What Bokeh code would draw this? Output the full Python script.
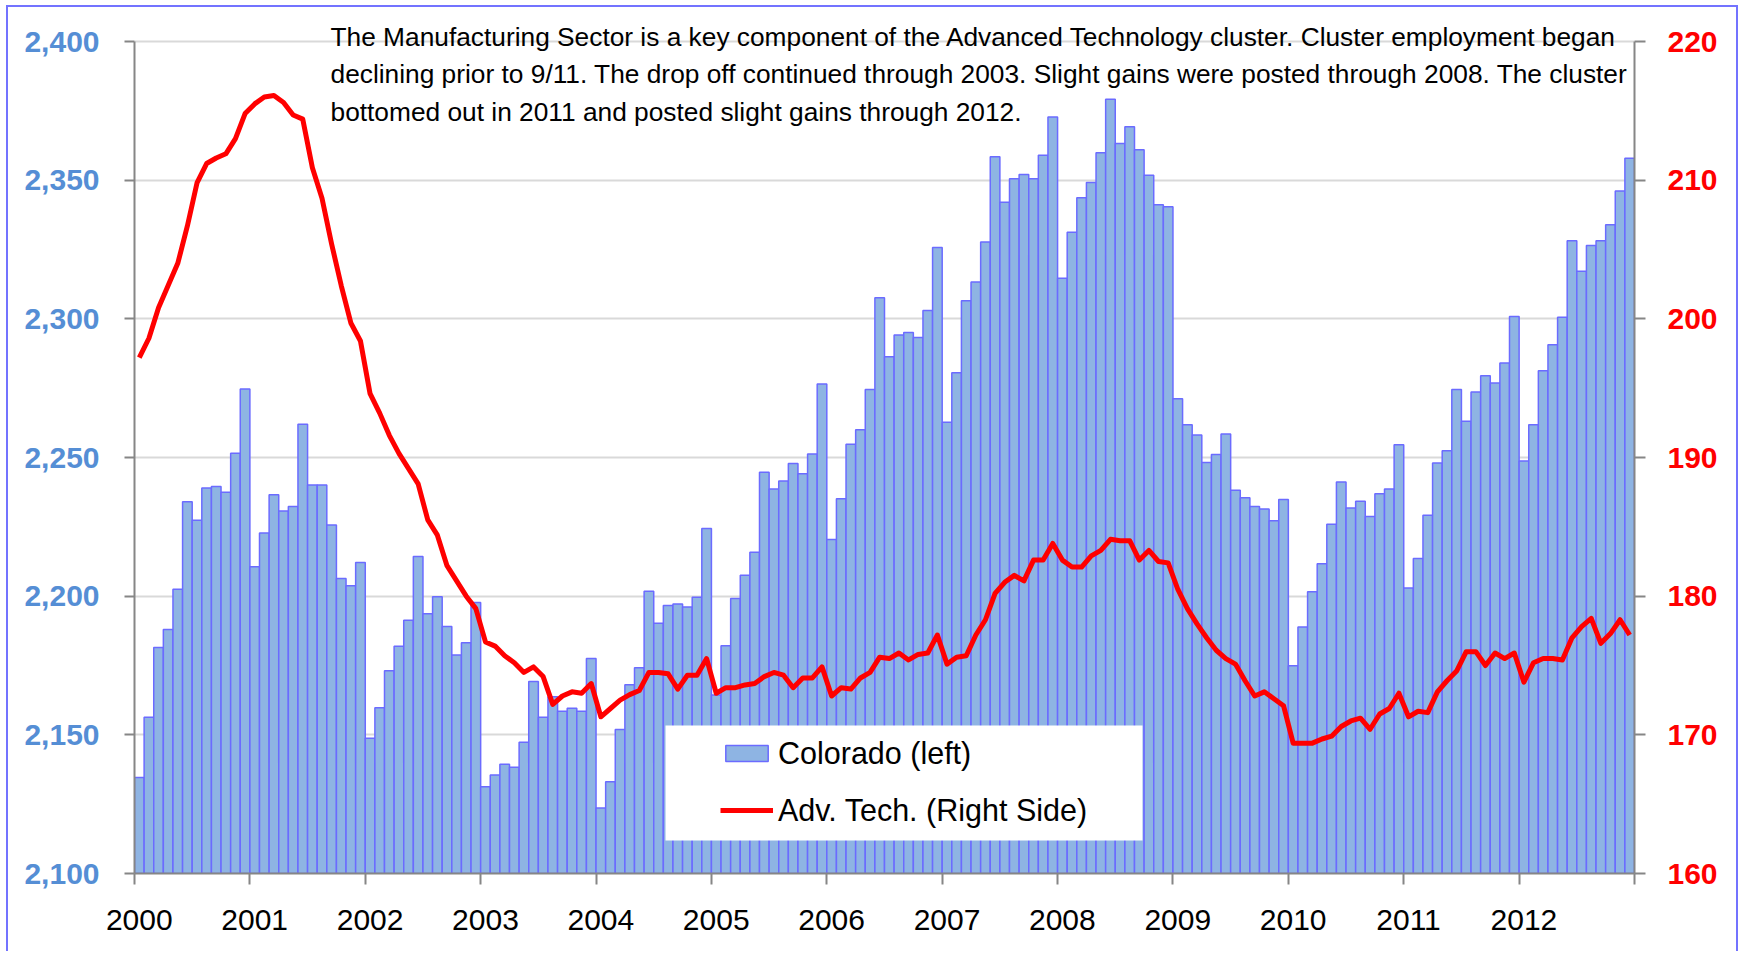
from bokeh.plotting import figure
from bokeh.models import (Range1d, LinearAxis, FixedTicker, Legend, LegendItem,
                          BoxAnnotation, Label, ColumnDataSource, NumeralTickFormatter)
from bokeh.embed import file_html
from bokeh.resources import INLINE

# ---------------- data ----------------
years = [str(y) for y in range(2000, 2013)]

colorado = [
    2134.6, 2156.3, 2181.5, 2188.0, 2202.5, 2234.0, 2227.4, 2239.0, 2239.5, 2237.5, 2251.5, 2274.7,
    2210.6, 2222.8, 2236.6, 2230.7, 2232.3, 2262.0, 2240.1, 2240.1, 2225.7, 2206.4, 2203.8, 2212.1,
    2148.8, 2159.8, 2173.1, 2181.9, 2191.3, 2214.3, 2193.7, 2199.8, 2189.1, 2178.8, 2183.2, 2197.7,
    2131.3, 2135.5, 2139.4, 2138.3, 2147.3, 2169.2, 2156.3, 2163.7, 2158.5, 2159.6, 2158.5, 2177.5,
    2123.6, 2133.1, 2151.9, 2168.1, 2174.2, 2201.8, 2190.2, 2196.6, 2197.2, 2196.1, 2199.6, 2224.4,
    2164.4, 2182.1, 2199.2, 2207.5, 2215.8, 2244.7, 2238.6, 2241.5, 2247.8, 2244.1, 2251.3, 2276.5,
    2220.4, 2235.1, 2254.8, 2260.0, 2274.5, 2307.6, 2286.3, 2294.2, 2295.1, 2293.3, 2303.0, 2325.7,
    2262.7, 2280.6, 2306.5, 2313.3, 2327.7, 2358.4, 2342.0, 2350.5, 2352.0, 2350.5, 2359.0, 2372.8,
    2314.6, 2331.2, 2343.7, 2349.2, 2359.9, 2379.2, 2363.2, 2369.3, 2361.0, 2351.8, 2341.1, 2340.4,
    2271.2, 2261.8, 2258.1, 2248.2, 2251.1, 2258.5, 2238.2, 2235.5, 2232.3, 2231.4, 2227.2, 2234.9,
    2174.9, 2188.9, 2201.6, 2211.7, 2225.9, 2241.2, 2231.8, 2234.2, 2228.7, 2236.9, 2238.6, 2254.6,
    2202.9, 2213.6, 2229.2, 2248.0, 2252.4, 2274.5, 2263.1, 2273.6, 2279.5, 2276.9, 2284.1, 2300.8,
    2248.7, 2261.8, 2281.3, 2290.7, 2300.6, 2328.2, 2317.2, 2326.4, 2328.2, 2333.9, 2346.1, 2357.9,
]

adv_tech = [
    197.2, 198.6, 200.8, 202.4, 204.0, 206.7, 209.8, 211.2, 211.6, 211.9, 213.0, 214.8,
    215.5, 216.0, 216.1, 215.6, 214.7, 214.4, 210.9, 208.7, 205.4, 202.4, 199.7, 198.4,
    194.6, 193.2, 191.6, 190.3, 189.2, 188.1, 185.5, 184.4, 182.2, 181.1, 180.0, 179.1,
    176.7, 176.4, 175.7, 175.2, 174.5, 174.9, 174.2, 172.2, 172.8, 173.1, 173.0, 173.7,
    171.3, 171.9, 172.5, 172.9, 173.2, 174.5, 174.5, 174.4, 173.3, 174.3, 174.3, 175.5,
    173.0, 173.4, 173.4, 173.6, 173.7, 174.2, 174.5, 174.3, 173.4, 174.1, 174.1, 174.9,
    172.8, 173.4, 173.3, 174.1, 174.5, 175.6, 175.5, 175.9, 175.4, 175.8, 175.9, 177.2,
    175.1, 175.6, 175.7, 177.2, 178.3, 180.2, 181.0, 181.5, 181.1, 182.6, 182.6, 183.8,
    182.6, 182.1, 182.1, 182.9, 183.3, 184.1, 184.0, 184.0, 182.6, 183.3, 182.5, 182.4,
    180.5, 179.1, 178.0, 177.0, 176.1, 175.5, 175.1, 173.9, 172.8, 173.1, 172.6, 172.1,
    169.4, 169.4, 169.4, 169.7, 169.9, 170.6, 171.0, 171.2, 170.4, 171.5, 171.9, 173.0,
    171.3, 171.7, 171.6, 173.1, 173.9, 174.6, 176.0, 176.0, 175.0, 175.9, 175.5, 175.9,
    173.8, 175.2, 175.5, 175.5, 175.4, 177.0, 177.8, 178.4, 176.6, 177.3, 178.3, 177.2,
]

left_ticks = [2100, 2150, 2200, 2250, 2300, 2350, 2400]
right_ticks = [160, 170, 180, 190, 200, 210, 220]

note_lines = [
    "The Manufacturing Sector is a key component of the Advanced Technology cluster. Cluster employment began",
    "declining prior to 9/11. The drop off continued through 2003. Slight gains were posted through 2008. The cluster",
    "bottomed out in 2011 and posted slight gains through 2012.",
]
legend_labels = ["Colorado (left)", "Adv. Tech. (Right Side)"]

# ---------------- styling / layout ----------------
FONT = "Liberation Sans"
BAR_FILL = "#8EB4E3"
BAR_LINE = "#6B6BFF"
AXIS_GRAY = "#868686"
GRID_GRAY = "#D9D9D9"
LEFT_COLOR = "#558ED5"
FRAME_LINE = "#7373FF"

n = len(colorado)
FW = 1500          # width of the plotting area
PH = 832           # height of the value area (2100..2400)
EXT = 30           # headroom above the top gridline, for the note text
FH = PH + EXT

l_lo, l_hi = left_ticks[0], left_ticks[-1]
r_lo, r_hi = right_ticks[0], right_ticks[-1]
l_top = l_hi + (l_hi - l_lo) * EXT / PH
r_top = r_hi + (r_hi - r_lo) * EXT / PH

x = [i + 0.5 for i in range(n)]
src = ColumnDataSource(dict(x=x, colorado=colorado, adv=adv_tech))

p = figure(frame_width=FW, frame_height=FH,
           x_range=Range1d(0, n), y_range=Range1d(l_lo, l_top),
           output_backend="svg", toolbar_location=None,
           min_border_left=126, min_border_right=102, min_border_top=4, min_border_bottom=78,
           background_fill_color="white", border_fill_color="white")
p.outline_line_color = None
p.styles = {"border-left": f"2px solid {FRAME_LINE}",
            "border-top": f"2px solid {FRAME_LINE}",
            "border-right": f"2px solid {FRAME_LINE}",
            "margin-left": "6px", "margin-top": "5px"}

p.extra_y_ranges = {"right": Range1d(r_lo, r_top)}

# grid
p.xgrid.visible = False
p.ygrid.grid_line_color = GRID_GRAY
p.ygrid.grid_line_width = 2

# left axis
ya = p.yaxis[0]
ya.ticker = FixedTicker(ticks=left_ticks)
ya.bounds = (l_lo, l_hi)
ya.formatter = NumeralTickFormatter(format="0,0")
ya.axis_line_color = AXIS_GRAY
ya.axis_line_width = 2
ya.major_tick_line_color = AXIS_GRAY
ya.major_tick_line_width = 2
ya.major_tick_out = 10
ya.major_tick_in = 0
ya.minor_tick_line_color = None
ya.major_label_standoff = 25
ya.major_label_text_font = FONT
ya.major_label_text_font_size = "30px"
ya.major_label_text_font_style = "bold"
ya.major_label_text_color = LEFT_COLOR

# right axis
ra = LinearAxis(y_range_name="right", ticker=FixedTicker(ticks=right_ticks), bounds=(r_lo, r_hi))
ra.axis_line_color = AXIS_GRAY
ra.axis_line_width = 2
ra.major_tick_line_color = AXIS_GRAY
ra.major_tick_line_width = 2
ra.major_tick_out = 11
ra.major_tick_in = 0
ra.minor_tick_line_color = None
ra.major_label_standoff = 22
ra.major_label_text_font = FONT
ra.major_label_text_font_size = "30px"
ra.major_label_text_font_style = "bold"
ra.major_label_text_color = "#FF0000"
p.add_layout(ra, "right")

# bottom axis: labels on January bars, tick marks on year boundaries
xa = p.xaxis[0]
label_pos = [12 * i + 0.5 for i in range(len(years))]
xa.ticker = FixedTicker(ticks=label_pos, minor_ticks=[12 * i for i in range(len(years) + 1)])
xa.major_label_overrides = {pos: yr for pos, yr in zip(label_pos, years)}
xa.axis_line_color = AXIS_GRAY
xa.axis_line_width = 2
xa.major_tick_line_color = None
xa.major_tick_out = 0
xa.major_tick_in = 0
xa.minor_tick_line_color = AXIS_GRAY
xa.minor_tick_line_width = 2
xa.minor_tick_out = 11
xa.minor_tick_in = 0
xa.major_label_standoff = 25
xa.major_label_text_font = FONT
xa.major_label_text_font_size = "30px"
xa.major_label_text_color = "black"

# marks
bars = p.vbar(x="x", top="colorado", bottom=l_lo, width=1.0, source=src,
              fill_color=BAR_FILL, line_color=BAR_LINE, line_width=1.5)
line = p.line(x="x", y="adv", source=src, y_range_name="right",
              line_color="#FF0000", line_width=5, line_join="round")

# pixel offsets (from the left edge / from the top gridline) -> data coordinates
def dx(px):
    return px / FW * n

def dy(px_below_top_grid):
    return l_hi - px_below_top_grid / PH * (l_hi - l_lo)

# legend backdrop
p.add_layout(BoxAnnotation(left=dx(531), right=dx(1008), top=dy(684), bottom=dy(799),
                           fill_color="white", fill_alpha=1.0, line_color=None))

legend = Legend(items=[LegendItem(label=legend_labels[0], renderers=[bars]),
                       LegendItem(label=legend_labels[1], renderers=[line])],
                location=(586, 43), padding=0, spacing=17,
                glyph_width=53, glyph_height=20, label_standoff=5, label_height=40,
                label_text_font=FONT, label_text_font_size="30.5px", label_text_color="black",
                background_fill_alpha=0.0, border_line_color=None)
p.add_layout(legend, "center")

# note text
for i, t in enumerate(note_lines):
    p.add_layout(Label(x=dx(196), y=dy(-5 + 37.9 * i), text=t, text_baseline="alphabetic",
                       text_font=FONT, text_font_size="26.3px", text_color="black"))

open("out.html", "w").write(file_html(p, INLINE))
